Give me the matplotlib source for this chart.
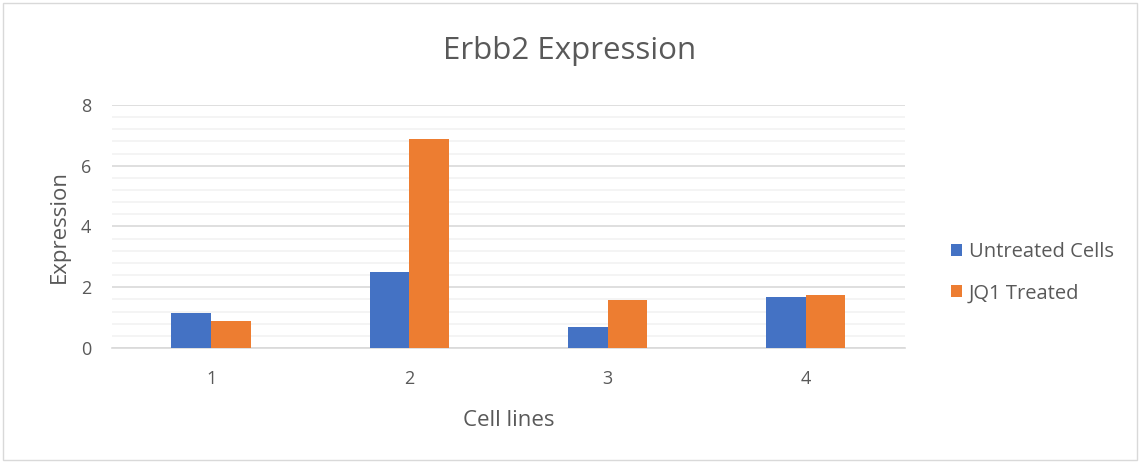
import matplotlib.pyplot as plt
import matplotlib.patches as patches
import numpy as np

cell_lines = ['1', '2', '3', '4']
untreated = [1.16, 2.51, 0.70, 1.69]
jq1_treated = [0.90, 6.88, 1.58, 1.73]

plt.rcParams['font.family'] = ['Open Sans', 'DejaVu Sans']
grey = '#595959'

fig = plt.figure(figsize=(11.4, 4.63), dpi=100)
ax = fig.add_axes([0.0982, 0.2484, 0.6956, 0.5248])

x = np.arange(len(cell_lines))
w = 0.2
ax.bar(x - w/2, untreated, w, color='#4472C4', label='Untreated Cells', zorder=3)
ax.bar(x + w/2, jq1_treated, w, color='#ED7D31', label='JQ1 Treated', zorder=3)

ax.set_xlim(-0.5, 3.5)
ax.set_ylim(0, 8)
ax.set_yticks([0, 2, 4, 6, 8])
ax.set_yticks(np.arange(0, 8.01, 0.4), minor=True)
ax.grid(axis='y', which='minor', color='#F2F2F2', linewidth=1.2, zorder=0)
ax.grid(axis='y', which='major', color='#D9D9D9', linewidth=1.2, zorder=1)
ax.set_xticks(x)
ax.set_xticklabels(cell_lines)
ax.tick_params(axis='both', which='both', length=0, labelsize=13, colors=grey)
ax.tick_params(axis='x', pad=16)
ax.tick_params(axis='y', pad=15)

for s in ['top', 'right', 'left']:
    ax.spines[s].set_visible(False)
ax.spines['bottom'].set_color('#D9D9D9')
ax.spines['bottom'].set_linewidth(1.2)

ax.set_xlabel('Cell lines', fontsize=16, color=grey, labelpad=16)
ax.set_ylabel('Expression', fontsize=16, color=grey, labelpad=8)
fig.text(0.5, 0.89, 'Erbb2 Expression', fontsize=22.5, color=grey, ha='center', va='center')

leg = ax.legend(loc='center left', bbox_to_anchor=(1.035, 0.31), frameon=False,
                fontsize=14.5, handlelength=0.55, handleheight=0.55, handletextpad=0.35,
                labelspacing=1.05)
for t in leg.get_texts():
    t.set_color(grey)

fig.patches.append(patches.Rectangle((0.003, 0.006), 0.994, 0.988, transform=fig.transFigure,
                                     fill=False, edgecolor='#D9D9D9', linewidth=1))

fig.savefig('out.png', dpi=100)
